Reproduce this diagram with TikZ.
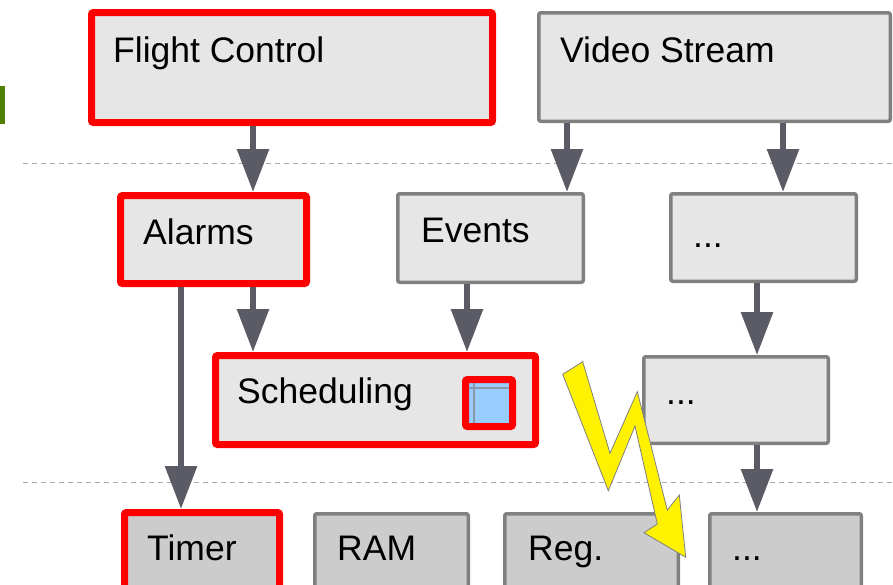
\documentclass[tikz,border=0pt]{standalone}
\usepackage{fontspec}
\setmainfont{Liberation Sans}
\usetikzlibrary{arrows.meta}
\definecolor{boxfill}{HTML}{E6E6E6}
\definecolor{hwfill}{HTML}{CCCCCC}
\definecolor{boxgray}{HTML}{808080}
\definecolor{arrowgray}{HTML}{5B5B66}
\definecolor{dashgray}{HTML}{AAAAAA}
\definecolor{barsgreen}{HTML}{4E7F00}
\definecolor{lightblue}{HTML}{99CCFF}
\begin{document}
\begin{tikzpicture}[x=1pt,y=-1pt,
  base/.style={rectangle, inner sep=0pt, rounded corners=2pt},
  redbox/.style={base, draw=red, line width=7pt, fill=boxfill},
  graybox/.style={base, draw=boxgray, line width=3.5pt, fill=boxfill},
  hwred/.style={redbox, fill=hwfill},
  hwgray/.style={graybox, fill=hwfill},
  label/.style={anchor=base west, inner sep=0pt, font=\fontsize{35.5}{40}\selectfont},
  arr/.style={draw=arrowgray, line width=6pt, -{Triangle[width=31pt,length=43pt]}},
  sep/.style={draw=dashgray, line width=1pt, dash pattern=on 5pt off 4pt},
  bolt/.style={fill=yellow, draw=boxgray, line width=0.8pt, line join=miter}
]
\useasboundingbox (0,0) rectangle (893,584);
\clip (0,0) rectangle (893,584);

% separators
\coordinate (s1a) at (23,163); \coordinate (s1b) at (893,163);
\coordinate (s2a) at (23,482); \coordinate (s2b) at (893,482);
\draw[sep] (s1a) -- (s1b);
\draw[sep] (s2a) -- (s2b);

% green marker
\fill[barsgreen] (0,86) rectangle (5,124);

% boxes
\node[redbox, minimum width=401pt, minimum height=110pt] (fc) at (292,67.5) {};
\node[graybox, minimum width=351.5pt, minimum height=108.5pt] (vs) at (714.5,67) {};
\node[redbox, minimum width=186pt, minimum height=88pt] (alarms) at (213.5,239.5) {};
\node[graybox, minimum width=185.5pt, minimum height=88.5pt] (events) at (490.5,238) {};
\node[graybox, minimum width=185.5pt, minimum height=87.5pt] (dotsb) at (763.5,237.5) {};
\node[redbox, minimum width=320pt, minimum height=89pt] (sched) at (375.5,400) {};
\node[redbox, fill=lightblue, minimum width=47pt, minimum height=47pt] (small) at (489,403) {};
\node[graybox, minimum width=184.5pt, minimum height=86.5pt] (dotsc) at (736,400) {};
\node[hwred, minimum width=155pt, minimum height=94pt] (timer) at (202,559.5) {};
\node[hwgray, minimum width=153.5pt, minimum height=94.5pt] (ram) at (391.5,561) {};
\node[hwgray, minimum width=173.5pt, minimum height=94.5pt] (reg) at (591.5,561) {};
\node[hwgray, minimum width=151.5pt, minimum height=94.5pt] (dotsd) at (785.5,561) {};

% inner grid lines of the small box
\draw[draw=boxgray!70!lightblue, line width=1.5pt] (474,383) -- (474,423);
\draw[draw=boxgray!70!lightblue, line width=1.5pt] (469,388) -- (509,388);

% labels
\node[label] (tfc) at (113,62) {Flight Control};
\node[label] (tvs) at (560,62) {Video Stream};
\node[label] (tal) at (143,244) {Alarms};
\node[label] (tev) at (421,242) {Events};
\node[label] (tdb) at (693,247) {...};
\node[label] (tsc) at (237,403) {Scheduling};
\node[label] (tdc) at (666,404) {...};
\node[label] (tti) at (147,560) {Timer};
\node[label] (tra) at (337,560) {RAM};
\node[label] (tre) at (528,560) {Reg.};
\node[label] (tdd) at (732,560) {...};

% arrow columns
\coordinate (c1) at (253,0);
\coordinate (c2) at (567,0);
\coordinate (c3) at (783,0);
\coordinate (c4) at (467,0);
\coordinate (c5) at (181,0);
\coordinate (c6) at (757,0);

\draw[arr] (fc.south -| c1) -- (alarms.north -| c1);
\draw[arr] (vs.south -| c2) -- (events.north -| c2);
\draw[arr] (vs.south -| c3) -- (dotsb.north -| c3);
\draw[arr] (alarms.south -| c1) -- (sched.north -| c1);
\draw[arr] (events.south -| c4) -- (sched.north -| c4);
\draw[arr] (alarms.south -| c5) -- (timer.north -| c5);
\draw[arr] (dotsb.south -| c6) -- (dotsc.north -| c6);
\draw[arr] (dotsc.south -| c6) -- (dotsd.north -| c6);

% lightning bolt
\draw[bolt] (562.7,374.3) -- (582.7,361.7) -- (610,453.3) -- (637.3,391.7)
  -- (667.3,510) -- (679.3,495) -- (685.7,557.3) -- (644,532.7)
  -- (657.3,524) -- (635,426) -- (608.3,490.7) -- cycle;
\end{tikzpicture}
\end{document}
